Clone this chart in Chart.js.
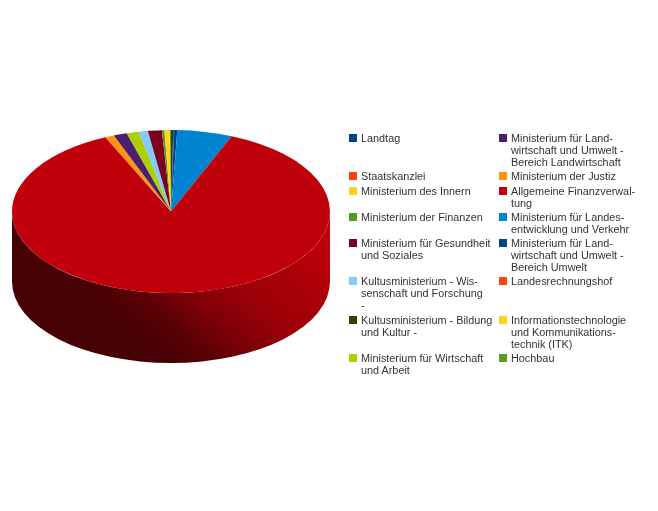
<!DOCTYPE html>
<html lang="de">
<head>
<meta charset="utf-8">
<title>Ausgaben nach Ressort</title>
<script src="https://cdn.jsdelivr.net/npm/chart.js@4"></script>
<style>
    html, body { margin: 0; padding: 0; background: #fff; }
    #wrap { position: relative; width: 658px; height: 511px; overflow: hidden; }
    #legende {
        position: absolute; left: 349px; top: 132px;
        display: grid; grid-template-columns: 150px 150px; row-gap: 2.3px;
        font: 10.85px/12px "Liberation Sans", sans-serif; color: #333;
    }
    .eintrag { position: relative; padding-left: 12px; white-space: pre; }
    .kasten { position: absolute; left: 0; top: 2px; width: 8px; height: 8px; }
</style>
</head>
<body>
<div id="wrap">
    <canvas id="kuchen" width="658" height="511"></canvas>
    <div id="legende"></div>
</div>
<script>
// Legende in Reihenfolge des Originals
const categories = [
    'Landtag',
    'Ministerium für Land-\nwirtschaft und Umwelt -\nBereich Landwirtschaft',
    'Staatskanzlei',
    'Ministerium der Justiz',
    'Ministerium des Innern',
    'Allgemeine Finanzverwal-\ntung',
    'Ministerium der Finanzen',
    'Ministerium für Landes-\nentwicklung und Verkehr',
    'Ministerium für Gesundheit\nund Soziales',
    'Ministerium für Land-\nwirtschaft und Umwelt -\nBereich Umwelt',
    'Kultusministerium - Wis-\nsenschaft und Forschung\n-',
    'Landesrechnungshof',
    'Kultusministerium - Bildung\nund Kultur -',
    'Informationstechnologie\nund Kommunikations-\ntechnik (ITK)',
    'Ministerium für Wirtschaft\nund Arbeit',
    'Hochbau'
];
// Anteile in Prozent
const values = [0.33, 1.36, 0.03, 0.86, 0.5, 87.1, 0.25, 5.6, 1.42, 0.08, 0.92, 0.03, 0.24, 0.05, 1.25, 0.1];
const colors = ['#004586', '#4b1f6f', '#ff420e', '#ff950e', '#ffd320', '#c0000a', '#579d1c', '#0084d1',
    '#7e0021', '#004586', '#83caff', '#ff420e', '#314004', '#ffd320', '#aecf00', '#579d1c'];
// Reihenfolge der Segmente im Uhrzeigersinn
const sliceOrder = [0, 7, 5, 11, 2, 3, 1, 14, 10, 8, 6, 4, 13, 15, 12, 9];

const squash = 0.5126;  // Ellipse der Oberseite
const depth = 70;       // Hoehe der Seitenwand

function darker(hex, f) {
    const n = parseInt(hex.slice(1), 16);
    const r = Math.round((n >> 16 & 255) * f), g = Math.round((n >> 8 & 255) * f), b = Math.round((n & 255) * f);
    return 'rgb(' + r + ',' + g + ',' + b + ')';
}

// 3D-Effekt: Seitenwand zeichnen, dann Kreis flachdruecken
const pie3d = {
    id: 'pie3d',
    beforeDatasetsDraw(chart) {
        const ctx = chart.ctx;
        const arcs = chart.getDatasetMeta(0).data;
        const cx = arcs[0].x, cy = arcs[0].y, r = arcs[0].outerRadius;
        const ry = r * squash;
        arcs.forEach(function(arc) {
            // nur die vordere Haelfte (0..PI) ist sichtbar
            const from = Math.max(arc.startAngle, 0), to = Math.min(arc.endAngle, Math.PI);
            if (to <= from) return;
            const col = arc.options.backgroundColor;
            const grad = ctx.createLinearGradient(cx + r - 5, cy + 14, cx + 22, cy + 168);
            grad.addColorStop(0, col);
            grad.addColorStop(0.23, darker(col, 0.92));
            grad.addColorStop(0.52, darker(col, 0.8));
            grad.addColorStop(0.7, darker(col, 0.65));
            grad.addColorStop(0.85, darker(col, 0.48));
            grad.addColorStop(1, darker(col, 0.37));
            ctx.beginPath();
            ctx.ellipse(cx, cy, r, ry, 0, from, to);
            ctx.ellipse(cx, cy + depth, r, ry, 0, to, from, true);
            ctx.closePath();
            ctx.fillStyle = grad;
            ctx.fill();
        });
        ctx.save();
        ctx.translate(cx, cy);
        ctx.scale(1, squash);
        ctx.translate(-cx, -cy);
    },
    afterDatasetsDraw(chart) {
        chart.ctx.restore();
    }
};

const chart = new Chart(document.getElementById('kuchen'), {
    type: 'pie',
    plugins: [pie3d],
    data: {
        labels: sliceOrder.map(i => categories[i]),
        datasets: [{
            data: sliceOrder.map(i => values[i]),
            backgroundColor: sliceOrder.map(i => colors[i]),
            borderWidth: 0
        }]
    },
    options: {
        responsive: false,
        animation: false,
        rotation: 1.1,
        layout: { padding: { left: 12, right: 328, top: 52.5, bottom: 140.5 } },
        plugins: {
            legend: { display: false },
            tooltip: { enabled: false }
        }
    }
});

// Legende als HTML, zweispaltig
const legende = document.getElementById('legende');
categories.forEach(function(name, i) {
    const zeile = document.createElement('div');
    zeile.className = 'eintrag';
    zeile.textContent = name;
    const kasten = document.createElement('span');
    kasten.className = 'kasten';
    kasten.style.background = colors[i];
    zeile.appendChild(kasten);
    legende.appendChild(zeile);
});
</script>
</body>
</html>
